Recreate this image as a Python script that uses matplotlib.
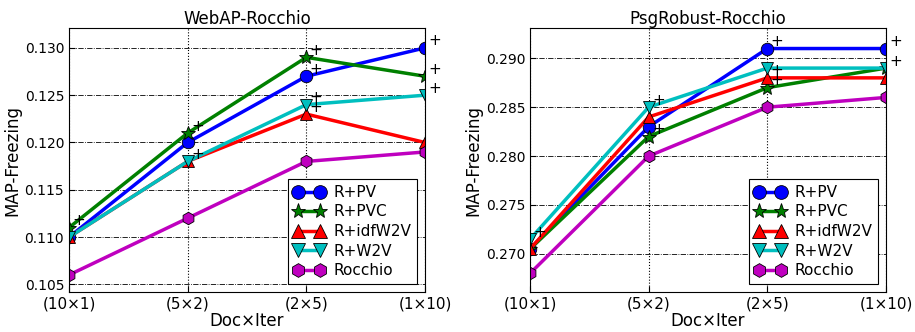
import matplotlib
matplotlib.use("Agg")
import matplotlib.pyplot as plt
from matplotlib.ticker import FormatStrFormatter

x_labels = ["(10\u00d71)", "(5\u00d72)", "(2\u00d75)", "(1\u00d710)"]
names = ["R+PV", "R+PVC", "R+idfW2V", "R+W2V", "Rocchio"]

webap = {
    "R+PV":     [0.110, 0.120, 0.127, 0.130],
    "R+PVC":    [0.111, 0.121, 0.129, 0.127],
    "R+idfW2V": [0.110, 0.118, 0.123, 0.120],
    "R+W2V":    [0.110, 0.118, 0.124, 0.125],
    "Rocchio":  [0.106, 0.112, 0.118, 0.119],
}
psg = {
    "R+PV":     [0.2705, 0.283, 0.291, 0.291],
    "R+PVC":    [0.2705, 0.282, 0.287, 0.289],
    "R+idfW2V": [0.2705, 0.284, 0.288, 0.288],
    "R+W2V":    [0.2715, 0.285, 0.289, 0.289],
    "Rocchio":  [0.268, 0.280, 0.285, 0.286],
}

# significance "+" marks: (series, x index)
webap_sig = [("R+PVC", 0), ("R+PVC", 1), ("R+W2V", 1), ("R+PVC", 2), ("R+PV", 2),
             ("R+W2V", 2), ("R+idfW2V", 2), ("R+PV", 3), ("R+PVC", 3), ("R+W2V", 3)]
psg_sig = [("R+W2V", 0), ("R+W2V", 1), ("R+PVC", 1), ("R+PV", 2), ("R+idfW2V", 2),
           ("R+PVC", 2), ("R+PV", 3), ("R+W2V", 3)]

styles = {
    "R+PV":     dict(color=(0, 0, 1), marker="o", ms=9),
    "R+PVC":    dict(color=(0, 0.5, 0), marker="*", ms=10),
    "R+idfW2V": dict(color=(1, 0, 0), marker="^", ms=9),
    "R+W2V":    dict(color=(0, 0.75, 0.75), marker="v", ms=9),
    "Rocchio":  dict(color=(0.75, 0, 0.75), marker="h", ms=9),
}


def panel(ax, data, sig, title, ylim, yticks):
    xs = range(len(x_labels))
    for n in names:
        st = styles[n]
        ax.plot(xs, data[n], color=st["color"], marker=st["marker"], ms=st["ms"],
                mec="k", mew=0.6, lw=2.5, label=n)
    for n, i in sig:
        ax.annotate("+", (i, data[n][i]), xytext=(7, 5), textcoords="offset points",
                    ha="center", va="center", fontsize=11, annotation_clip=False)
    ax.set_xlim(0, 3)
    ax.set_ylim(*ylim)
    ax.set_yticks(yticks)
    ax.yaxis.set_major_formatter(FormatStrFormatter("%.3f"))
    ax.set_xticks(list(xs))
    ax.set_xticklabels(x_labels, fontsize=11)
    ax.tick_params(axis="y", labelsize=10)
    ax.tick_params(direction="in", length=4)
    ax.grid(True, axis="y", color="k", linestyle="-.", lw=0.6)
    ax.grid(True, axis="x", color="k", linestyle=":", lw=0.8)
    ax.set_title(title, fontsize=12, pad=3)
    ax.set_xlabel("Doc\u00d7Iter", fontsize=12, labelpad=0)
    ax.set_ylabel("MAP-Freezing", fontsize=12, labelpad=2)
    leg = ax.legend(loc="lower right", numpoints=2, fontsize=11, fancybox=False,
                    framealpha=1, edgecolor="k", handlelength=2.0, labelspacing=0.3,
                    borderaxespad=0.5, markerscale=1.1, handletextpad=0.6)
    leg.get_frame().set_linewidth(0.8)


fig = plt.figure(figsize=(9.15, 3.32), dpi=100)
ax1 = fig.add_axes([69 / 915, 40 / 332, 356 / 915, 264 / 332])
ax2 = fig.add_axes([530 / 915, 40 / 332, 356 / 915, 264 / 332])

panel(ax1, webap, webap_sig, "WebAP-Rocchio", (0.1042, 0.1321),
      [0.105, 0.110, 0.115, 0.120, 0.125, 0.130])
panel(ax2, psg, psg_sig, "PsgRobust-Rocchio", (0.2661, 0.2931),
      [0.270, 0.275, 0.280, 0.285, 0.290])

fig.savefig("out.png", dpi=100)
